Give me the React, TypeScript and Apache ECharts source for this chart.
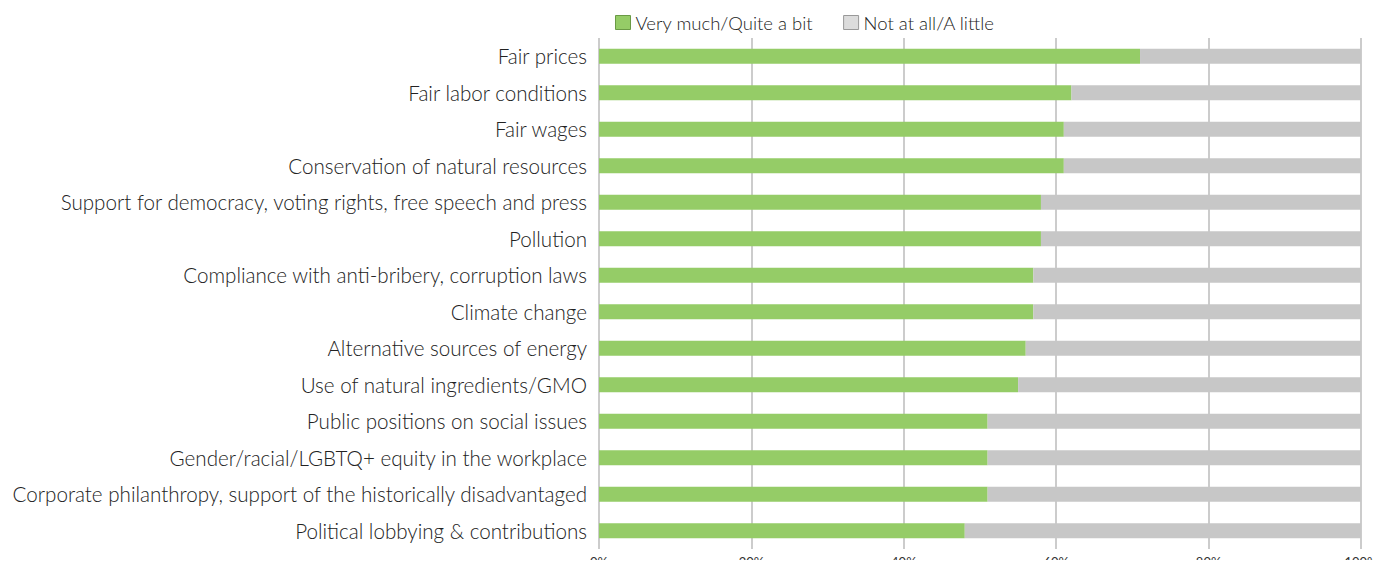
import React, { useEffect, useRef } from "react";
import * as echarts from "echarts";

const categories = [
  "Fair prices",
  "Fair labor conditions",
  "Fair wages",
  "Conservation of natural resources",
  "Support for democracy, voting rights, free speech and press",
  "Pollution",
  "Compliance with anti-bribery, corruption laws",
  "Climate change",
  "Alternative sources of energy",
  "Use of natural ingredients/GMO",
  "Public positions on social issues",
  "Gender/racial/LGBTQ+ equity in the workplace",
  "Corporate philanthropy, support of the historically disadvantaged",
  "Political lobbying & contributions",
];
const veryMuch = [71, 62, 61, 61, 58, 58, 57, 57, 56, 55, 51, 51, 51, 48];
const notAtAll = [29, 38, 39, 39, 42, 42, 43, 43, 44, 45, 49, 49, 49, 52];
const seriesNames = ["Very much/Quite a bit", "Not at all/A little"];

export default function App() {
  const ref = useRef<HTMLDivElement>(null);
  useEffect(() => {
    const chart = echarts.init(ref.current!, undefined, { renderer: "svg" });
    chart.setOption({
      animation: false,
      textStyle: { fontFamily: "Lato" },
      legend: {
        top: 8,
        left: 610,
        itemWidth: 15,
        itemHeight: 14,
        itemGap: 30,
        icon: "rect",
        textStyle: { fontSize: 18.5, color: "#222", fontFamily: "Lato", fontWeight: 300 },
        data: seriesNames.map((n, i) => ({
          name: n,
          itemStyle: {
            color: i === 0 ? "#95cc67" : "#dcdcdc",
            borderColor: i === 0 ? "#6a9a45" : "#999",
            borderWidth: 1,
          },
        })),
      },
      grid: { left: 599, right: 20, top: 38, height: 514, containLabel: false },
      xAxis: {
        type: "value",
        min: 0,
        max: 100,
        interval: 20,
        axisLabel: { formatter: "{value}%", fontSize: 13, color: "#333", margin: 6 },
        axisLine: { show: false },
        axisTick: { show: false },
        splitLine: { lineStyle: { color: "#cccccc", width: 2 } },
      },
      yAxis: {
        type: "category",
        inverse: true,
        data: categories,
        axisLine: { show: false },
        axisTick: { show: false },
        axisLabel: { fontSize: 20.6, color: "#222", margin: 12, fontWeight: 300 },
      },
      series: [
        {
          name: seriesNames[0],
          type: "bar",
          stack: "a",
          barWidth: 15,
          data: veryMuch,
          itemStyle: { color: "#95cc67" },
        },
        {
          name: seriesNames[1],
          type: "bar",
          stack: "a",
          barWidth: 15,
          data: notAtAll,
          itemStyle: { color: "#c7c7c7" },
        },
      ],
      graphic: [
        {
          type: "line",
          shape: { x1: 1380, y1: 0, x2: 1380, y2: 568 },
          style: { stroke: "#c6e6ab", lineWidth: 1 },
        },
      ],
    });
    return () => chart.dispose();
  }, []);
  return <div ref={ref} style={{ width: 1381, height: 568, margin: -8 }} />;
}
